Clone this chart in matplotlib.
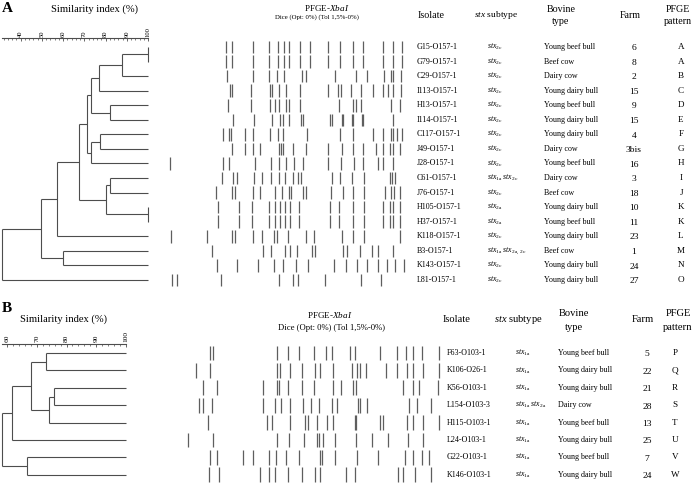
import numpy as np
import matplotlib.pyplot as plt

plt.rcParams['font.family'] = ['Liberation Serif', 'DejaVu Serif']
plt.rcParams['mathtext.fontset'] = 'custom'
plt.rcParams['mathtext.rm'] = 'Liberation Serif'
plt.rcParams['mathtext.it'] = 'Liberation Serif:italic'

# ---------------- panel A (O157) ----------------
isolates_a = ['G15-O157-1', 'G79-O157-1', 'C29-O157-1', 'I113-O157-1', 'H13-O157-1',
              'I114-O157-1', 'C117-O157-1', 'J49-O157-1', 'J28-O157-1', 'C61-O157-1',
              'J76-O157-1', 'H105-O157-1', 'H37-O157-1', 'K118-O157-1', 'B3-O157-1',
              'K143-O157-1', 'L81-O157-1']
stx_a = [['2c'], ['2c'], ['2c'], ['2c'], ['2c'], ['2c'], ['2c'], ['2c'], ['2c'],
         ['1a', '2c'], ['2c'], ['2a'], ['2a'], ['2c'], ['1a', '2a, 2c'], ['2c'], ['2c']]
bovine_a = ['Young beef bull', 'Beef cow', 'Dairy cow', 'Young dairy bull', 'Young beef bull',
            'Young dairy bull', 'Young dairy bull', 'Dairy cow', 'Young beef bull', 'Dairy cow',
            'Beef cow', 'Young dairy bull', 'Young beef bull', 'Young dairy bull', 'Beef cow',
            'Young dairy bull', 'Young dairy bull']
farm_a = ['6', '8', '2', '15', '9', '15', '4', '3bis', '16', '3', '18', '10', '11', '23', '1', '24', '27']
pattern_a = list('AABCDEFGHIJKKLMNO')

# dendrogram: (similarity %, left, right), leaves are row indices
tree_a = (31.2,
          (49.6,
           (57.1,
            (67.5,
             (71.3,
              (73.1, (76.9, (87.7, (100.0, 0, 1), 2), 3), (82.1, 4, 5)),
              (72.9, (77.4, 6, 7), 8)),
             (80.3, (82.1, 9, 10), (100.0, 11, 12))),
            13),
           (60.0, 14, 15)),
          16)

# band positions along the normalised lane (0-100)
pat_A = [26.4, 28.7, 37.1, 43.7, 47.3, 49.7, 51.7, 56.0, 60.0, 67.1, 72.0, 77.1, 81.1, 89.1, 93.1, 96.7]
pat_K = [23.3, 31.7, 36.7, 43.7, 46.0, 48.0, 50.0, 52.0, 55.7, 68.0, 71.7, 77.3, 81.7, 89.3, 92.0, 93.3, 96.0]
bands_a = [
    pat_A,
    pat_A,
    [26.9, 37.1, 43.7, 46.7, 49.7, 56.7, 58.4, 70.0, 78.4, 82.7, 89.6, 92.3, 93.3, 96.3],
    [28.0, 28.7, 36.4, 44.0, 44.7, 47.7, 50.4, 56.0, 67.1, 71.3, 72.3, 76.3, 80.4, 85.1, 89.3, 91.3, 93.1, 96.3],
    [27.3, 36.4, 44.0, 46.0, 47.7, 50.4, 51.7, 56.0, 71.7, 77.3, 78.4, 80.4, 92.3, 96.0],
    [29.3, 37.7, 44.7, 48.0, 49.1, 51.7, 56.4, 57.1, 68.0, 68.7, 72.7, 73.3, 76.7, 77.3, 80.7, 81.3, 93.1],
    [25.3, 27.7, 28.4, 34.0, 37.1, 44.0, 47.3, 49.3, 58.7, 72.0, 77.3, 85.3, 89.1, 92.3, 93.3, 94.7, 96.7],
    [28.7, 34.0, 37.1, 40.0, 47.7, 48.3, 49.1, 53.1, 58.4, 67.1, 72.7, 77.3, 81.3, 86.4, 89.3, 92.0, 93.3, 96.0],
    [4.0, 25.3, 27.7, 38.0, 44.4, 47.7, 50.4, 53.6, 57.1, 67.3, 72.3, 77.6, 81.3, 87.3, 89.3, 93.3],
    [24.7, 29.3, 30.7, 37.7, 40.7, 44.4, 47.7, 50.0, 53.1, 55.3, 56.4, 68.7, 72.0, 76.7, 81.6, 92.0, 92.7, 94.0],
    [22.4, 28.7, 30.0, 37.3, 40.0, 46.0, 48.7, 51.7, 52.4, 57.3, 58.4, 68.4, 73.3, 77.3, 81.7, 90.0, 92.3, 93.6, 96.0],
    pat_K,
    pat_K,
    [4.3, 18.7, 28.7, 30.0, 37.3, 40.7, 45.7, 46.7, 51.3, 58.4, 61.7, 72.7, 77.3, 81.7, 96.0],
    [20.9, 41.3, 44.4, 50.0, 52.0, 54.9, 60.7, 62.0, 73.3, 74.7, 80.0, 84.7, 87.3, 93.1],
    [22.7, 30.7, 39.3, 45.7, 49.3, 54.4, 59.3, 69.7, 74.4, 78.7, 82.7, 87.3, 90.7, 94.0, 97.6],
    [4.9, 6.7, 24.5, 47.7, 53.3, 55.1, 66.0, 80.4, 88.4],
]

# ---------------- panel B (non-O157) ----------------
isolates_b = ['F63-O103-1', 'K106-O26-1', 'K56-O103-1', 'L154-O103-3', 'H115-O103-1',
              'L24-O103-1', 'G22-O103-1', 'K146-O103-1']
stx_b = [['1a'], ['1a'], ['1a'], ['1a', '2a'], ['1a'], ['1a'], ['1a'], ['1a']]
bovine_b = ['Young beef bull', 'Young dairy bull', 'Young dairy bull', 'Dairy cow',
            'Young beef bull', 'Young dairy bull', 'Young beef bull', 'Young dairy bull']
farm_b = ['5', '22', '21', '28', '13', '25', '7', '24']
pattern_b = list('PQRSTUVW')

tree_b = (58.3,
          (61.6, (68.1, (73.1, 0, 1), (74.2, (75.9, 2, 3), 4)), 5),
          (66.8, 6, 7))

bands_b = [
    [9.6, 10.9, 35.5, 39.5, 43.8, 49.7, 54.2, 56.5, 63.5, 65.4, 75.0, 81.4, 85.0, 87.8, 91.0, 97.7],
    [4.2, 9.6, 35.3, 36.5, 40.4, 44.9, 50.0, 51.9, 57.1, 64.1, 66.0, 67.3, 69.5, 77.2, 81.4, 85.3, 87.8, 91.4, 97.7],
    [6.8, 12.2, 29.9, 35.5, 36.3, 39.7, 44.9, 49.7, 57.1, 59.9, 64.7, 65.6, 84.0, 87.6, 90.1, 97.4],
    [5.5, 7.1, 10.3, 29.9, 34.6, 36.9, 40.4, 45.3, 48.3, 51.7, 56.4, 58.3, 66.4, 67.3, 69.9, 86.3, 89.1, 94.6],
    [8.7, 31.4, 33.3, 40.4, 46.2, 47.4, 50.6, 54.5, 57.1, 65.4, 65.8, 75.0, 76.0, 85.3, 87.8, 91.7, 97.7],
    [1.3, 10.6, 35.5, 40.1, 45.9, 50.6, 51.7, 53.0, 57.7, 65.8, 71.8, 78.2, 85.6, 91.7],
    [9.6, 12.4, 22.2, 26.0, 32.4, 35.0, 38.8, 43.8, 51.9, 52.8, 57.7, 66.0, 74.4, 84.6, 87.8, 91.0, 94.0],
    [9.2, 13.1, 28.8, 32.4, 34.6, 39.7, 44.9, 50.0, 51.9, 61.9, 65.4, 82.1, 83.7, 88.5, 94.5],
]

W, H = 696, 484
fig = plt.figure(figsize=(W / 100, H / 100), dpi=100)
LINE = '#4d4d4d'
BAND = '#5e5e5e'


def px_axes(x0, x1, top, bot, row0, dy):
    # axes placed in pixel units, y data = row index
    ax = fig.add_axes([x0 / W, 1 - bot / H, (x1 - x0) / W, (bot - top) / H])
    ax.set_ylim((bot - row0) / dy, (top - row0) / dy)
    ax.set_facecolor('none')
    for s in ax.spines.values():
        s.set_visible(False)
    ax.set_xticks([])
    ax.set_yticks([])
    return ax


def draw_tree(ax, node):
    if isinstance(node, int):
        return node, 100.0
    sim, left, right = node
    y1, s1 = draw_tree(ax, left)
    y2, s2 = draw_tree(ax, right)
    ax.hlines([y1, y2], [sim, sim], [s1, s2], color=LINE, lw=0.8, clip_on=False)
    ax.vlines(sim, y1, y2, color=LINE, lw=0.8, clip_on=False)
    return (y1 + y2) / 2, sim


def stx_label(codes):
    return '$' + r'\ '.join(r'\mathit{stx}_{\mathrm{%s}}' % c.replace(' ', r'\ ') for c in codes) + '$'


def panel(tree, bands, isolates, stx, bovine, farm, pattern, lay):
    row0, dy, top, bot = lay['row0'], lay['dy'], lay['top'], lay['bot']
    # dendrogram with the similarity scale on its top spine
    s0, s1 = lay['sim_lim']
    px0 = lay['px40'] + (s0 - lay['s_ref']) * lay['pps']
    px1 = lay['px40'] + (s1 - lay['s_ref']) * lay['pps']
    ax = px_axes(px0, px1, top, bot, row0, dy)
    ax.set_xlim(s0, s1)
    draw_tree(ax, tree)
    ax.spines['top'].set_visible(True)
    ax.spines['top'].set_color(LINE)
    ax.spines['top'].set_linewidth(0.8)
    ax.xaxis.tick_top()
    ax.set_xticks(lay['major'])
    ax.set_xticks(lay['minor'], minor=True)
    ax.tick_params(axis='x', which='major', direction='in', length=2.4, width=0.6,
                   color=LINE, labelsize=lay['tick_fs'], pad=1.2, labelrotation=90)
    ax.tick_params(axis='x', which='minor', direction='in', length=1.2, width=0.5, color=LINE)

    # gel lanes
    g = px_axes(lay['gel'][0], lay['gel'][1], top, bot, row0, dy)
    g.set_xlim(0, 100)
    h = lay['band_h']
    for i, lane in enumerate(bands):
        g.vlines(lane, i - h, i + h, color=BAND, lw=0.9)

    # table
    t = px_axes(400, W, top, bot, row0, dy)
    t.set_xlim(400, W)
    cx = lay['cols']
    for i in range(len(isolates)):
        t.text(cx[0], i, isolates[i], ha='left', va='center', fontsize=5.8)
        t.text(cx[1], i, stx_label(stx[i]), ha='left', va='center', fontsize=5.6)
        t.text(cx[2], i, bovine[i], ha='left', va='center', fontsize=5.8)
        t.text(cx[3], i + 0.08, farm[i], ha='center', va='center', fontsize=6.8)
        t.text(cx[4], i, pattern[i], ha='center', va='center', fontsize=6.6)


lay_a = dict(row0=47.0, dy=14.56, top=38.3, bot=288.7, sim_lim=(31.0, 100.0),
             px40=20.7, s_ref=40, pps=2.122, major=range(40, 101, 10),
             minor=np.arange(32, 101, 2), tick_fs=4.7, gel=(160, 410), band_h=0.43,
             cols=(417, 487, 544, 634, 681))
lay_b = dict(row0=353.0, dy=17.4, top=344.0, bot=483.5, sim_lim=(58.2, 100.0),
             px40=7.0, s_ref=60, pps=2.975, major=range(60, 101, 10),
             minor=np.arange(60, 101, 2), tick_fs=5.3, gel=(185, 445), band_h=0.42,
             cols=(447, 515, 558, 647, 675))

panel(tree_a, bands_a, isolates_a, stx_a, bovine_a, farm_a, pattern_a, lay_a)
panel(tree_b, bands_b, isolates_b, stx_b, bovine_b, farm_b, pattern_b, lay_b)


def ftext(x, y, s, **kw):
    fig.text(x / W, 1 - y / H, s, va='center', **kw)


# panel A headers
ftext(2, 9, 'A', ha='left', fontsize=11, fontweight='bold')
ftext(94.5, 9.5, 'Similarity index (%)', ha='center', fontsize=7.6)
ftext(327, 8, r'PFGE-$\mathit{XbaI}$', ha='center', fontsize=6.6)
ftext(317, 17.5, 'Dice (Opt: 0%) (Tol 1,5%-0%)', ha='center', fontsize=4.9)
ftext(418, 15, 'Isolate', ha='left', fontsize=7.2)
ftext(496, 15, r'$\mathit{stx}$ subtype', ha='center', fontsize=6.8)
ftext(561, 10, 'Bovine', ha='center', fontsize=7.2)
ftext(561, 22, 'type', ha='center', fontsize=7.2)
ftext(630, 15, 'Farm', ha='center', fontsize=7.2)
ftext(678, 10, 'PFGE', ha='center', fontsize=7.2)
ftext(678, 22, 'pattern', ha='center', fontsize=7.2)

# panel B headers
ftext(2, 308, 'B', ha='left', fontsize=11, fontweight='bold')
ftext(63.5, 319, 'Similarity index (%)', ha='center', fontsize=7.6)
ftext(330, 315, r'PFGE-$\mathit{XbaI}$', ha='center', fontsize=6.6)
ftext(332, 328, 'Dice (Opt: 0%) (Tol 1,5%-0%)', ha='center', fontsize=6.2)
ftext(443, 319, 'Isolate', ha='left', fontsize=7.6)
ftext(518, 319, r'$\mathit{stx}$ subtype', ha='center', fontsize=7.6)
ftext(574, 314, 'Bovine', ha='center', fontsize=7.6)
ftext(574, 327, 'type', ha='center', fontsize=7.6)
ftext(643, 319, 'Farm', ha='center', fontsize=7.6)
ftext(678, 314, 'PFGE', ha='center', fontsize=7.6)
ftext(678, 327, 'pattern', ha='center', fontsize=7.6)

fig.savefig('out.png', dpi=100)
